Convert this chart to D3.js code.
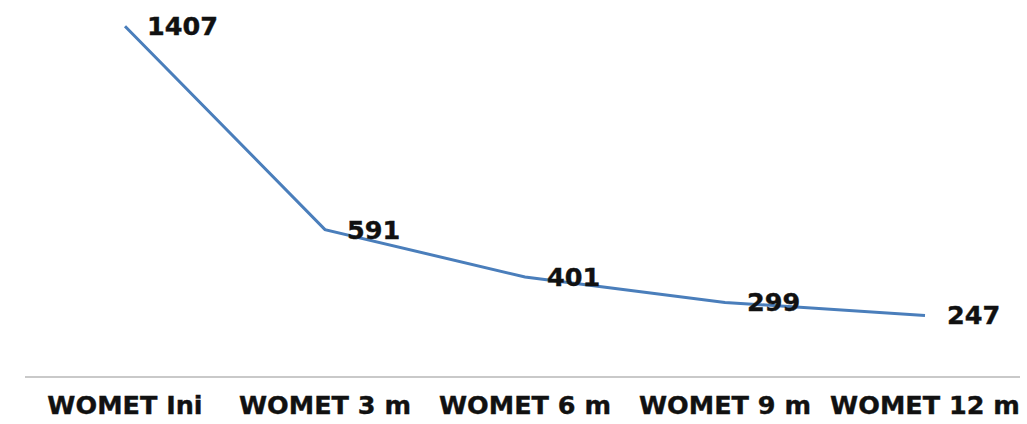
<!DOCTYPE html>
<html>
<head>
<meta charset="utf-8">
<script src="https://cdn.jsdelivr.net/npm/d3@7"></script>
<style>
  html, body { margin: 0; padding: 0; background: #fff; }
  svg { display: block; }
  text { font-family: "DejaVu Sans", Verdana, sans-serif; font-weight: bold; fill: #111; stroke: #111; stroke-width: 0.4px; }
</style>
</head>
<body>
<svg id="chart" width="1027" height="424"></svg>
<script>
  // data
  var categories = ['WOMET Ini', 'WOMET 3 m', 'WOMET 6 m', 'WOMET 9 m', 'WOMET 12 m'];
  var values = [1407, 591, 401, 299, 247];

  var svg = d3.select('#chart');

  var x = d3.scaleBand()
      .domain(categories)
      .range([25, 1025]);

  var y = d3.scaleLinear()
      .domain([0, 1500])
      .range([377, 3]);

  var points = categories.map(function (c, i) {
    return { cat: c, val: values[i] };
  });

  // baseline
  svg.append('line')
      .attr('x1', x.range()[0])
      .attr('x2', x.range()[1] - 5)
      .attr('y1', y(0))
      .attr('y2', y(0))
      .style('stroke', '#c9c9c9')
      .style('stroke-width', 2);

  // category labels
  svg.append('g')
      .selectAll('text')
      .data(categories)
      .enter().append('text')
      .attr('x', function (d) { return x(d) + x.bandwidth() / 2; })
      .attr('y', 414)
      .attr('text-anchor', 'middle')
      .style('font-size', '25.5px')
      .text(function (d) { return d; });

  var line = d3.line()
      .x(function (d) { return x(d.cat) + x.bandwidth() / 2; })
      .y(function (d) { return y(d.val); });

  svg.append('path')
      .datum(points)
      .attr('d', line)
      .style('fill', 'none')
      .style('stroke', '#4a7ebb')
      .style('stroke-width', 3);

  // value labels
  svg.append('g')
      .selectAll('text')
      .data(points)
      .enter().append('text')
      .attr('x', function (d) { return x(d.cat) + x.bandwidth() / 2 + 22; })
      .attr('y', function (d) { return y(d.val) + 9; })
      .style('font-size', '25.5px')
      .text(function (d) { return d.val; });
</script>
</body>
</html>
